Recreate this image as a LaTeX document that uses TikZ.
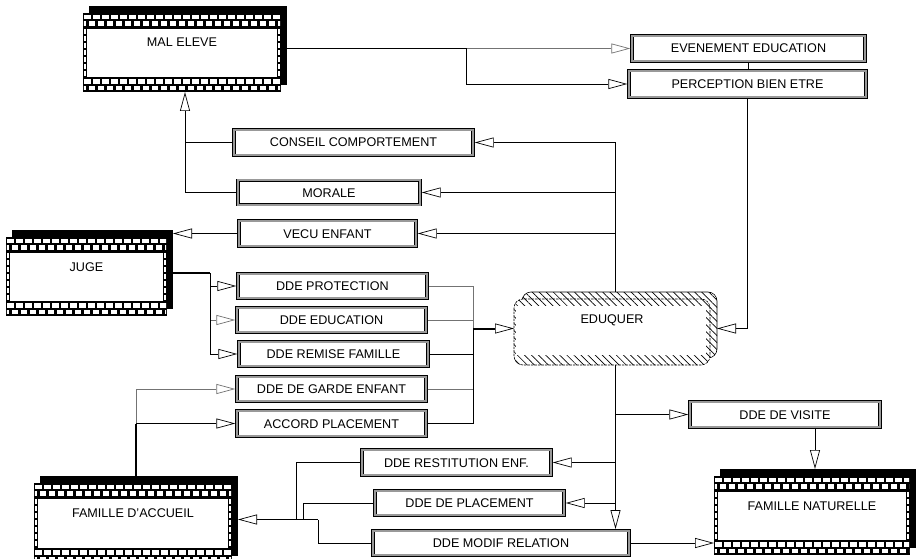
\documentclass[tikz,border=0pt]{standalone}
\usepackage{fontspec}
\setmainfont{Liberation Sans}
\usetikzlibrary{arrows.meta,patterns.meta,calc}
\tikzset{
  area/.style={rectangle,inner sep=0pt,outer sep=0pt,draw=none},
  txt/.style={font=\fontsize{12.6}{14}\selectfont,inner sep=0pt,text height=9pt,text depth=0pt},
  msg/.style={rectangle,draw=black,line width=0.6pt,double=black!40,double distance=2.2pt,
    fill=white,inner sep=0pt,outer sep=1.7pt,font=\fontsize{12.6}{14}\selectfont,
    text height=9pt,text depth=0pt},
  ln/.style={line width=0.8pt,draw=black},
  gry/.style={draw=black!55},
  arr/.style={-{Triangle[length=19pt,width=10pt,fill=white,line width=0.7pt]}},
  hatch/.style={pattern={Lines[angle=-45,distance=5pt,line width=0.7pt]}}
}
\newcommand\brickbox[6]{%
  \fill[black] ({#2+6},{#3-7}) rectangle ({#4+6},{#5-7});
  \fill[black] (#2,#3) rectangle (#4,#5);
  \begin{scope}
    \clip ({#2+0.8},#3) rectangle ({#4-0.8},#5);
    \foreach \k in {0,...,23}{
      \fill[white] ({#2+1.2+9*\k},{#3+1.6}) rectangle ++(6.6,4.4);
      \fill[white] ({#2-3.3+9*\k},{#3+8.4}) rectangle ++(6.6,4.4);
      \fill[white] ({#2+1.2+9*\k},{#5-12.8}) rectangle ++(6.6,4.4);
      \fill[white] ({#2-3.3+9*\k},{#5-6}) rectangle ++(6.6,4.4);
    }
  \end{scope}
  \foreach \k in {0,...,6}{
    \fill[white] ({#2+0.9},{#3+16+7*\k}) rectangle ++(1.7,4.8);
    \fill[white] ({#4-2.6},{#3+16+7*\k}) rectangle ++(1.7,4.8);
  }
  \filldraw[fill=white,draw=black,line width=0.5pt] ({#2+3.5},{#3+15}) rectangle ({#4-3.5},{#5-15});
  \node[area,minimum width={(#4+6-#2)*1pt},minimum height={(#5-#3+7)*1pt}] (#1) at ({(#2+#4+6)/2},{(#3-7+#5)/2}) {};
  \node[txt] (#1-t) at ({(#2+#4)/2},{#3+29.5}) {#6};
}
\begin{document}
\begin{tikzpicture}[x=1pt,y=-1pt]
\useasboundingbox (0,0) rectangle (916,559);
\clip (0,0) rectangle (916,559);
\fill[white] (0,0) rectangle (916,559);

% brick boxes (actors)
\brickbox{mal}{83}{13}{281}{92}{MAL ELEVE}
\brickbox{juge}{6}{237}{167}{316}{JUGE}
\brickbox{fa}{34}{483}{232}{563}{FAMILLE D'ACCUEIL}
\brickbox{fn}{714}{476}{910}{555}{FAMILLE NATURELLE}

% EDUQUER process shape
\filldraw[fill=white,draw=black,line width=0.6pt,rounded corners=9pt] (522,292) rectangle (717,358);
\fill[hatch,rounded corners=9pt] (522,292) rectangle (717,358);
\fill[white,rounded corners=9pt] (514,299) rectangle (710,365);
\fill[hatch,rounded corners=9pt] (514,299) rectangle (710,365);
\draw[black,line width=0.6pt,dash pattern=on 2.5pt off 1pt,rounded corners=9pt] (514,299) rectangle (710,365);
\fill[white] (515.5,306) rectangle (706,355);
\node[area,minimum width=203pt,minimum height=73pt] (eduq) at (615.5,328.5) {};
\node[txt] (eduqt) at (612,319) {EDUQUER};

% message boxes
\node[msg,minimum width=233pt,minimum height=25.5pt] (evt) at (748.5,48.5) {EVENEMENT EDUCATION};
\node[msg,minimum width=237pt,minimum height=26.5pt] (perc) at (747.5,84) {PERCEPTION BIEN ETRE};
\node[msg,minimum width=239pt,minimum height=25.5pt] (cons) at (353.5,142.5) {CONSEIL COMPORTEMENT};
\node[msg,minimum width=182pt,minimum height=24.5pt] (morale) at (329,192.5) {MORALE};
\node[msg,minimum width=177pt,minimum height=25.5pt] (vecu) at (327.5,233.5) {VECU ENFANT};
\node[msg,minimum width=189pt,minimum height=24.5pt] (prot) at (332.5,286) {DDE PROTECTION};
\node[msg,minimum width=189pt,minimum height=24.5pt] (educ) at (331.5,320) {DDE EDUCATION};
\node[msg,minimum width=189pt,minimum height=24.5pt] (remise) at (333.5,354) {DDE REMISE FAMILLE};
\node[msg,minimum width=189pt,minimum height=24.5pt] (garde) at (331.5,389) {DDE DE GARDE ENFANT};
\node[msg,minimum width=189pt,minimum height=25.5pt] (accord) at (331.5,423.5) {ACCORD PLACEMENT};
\node[msg,minimum width=190pt,minimum height=25.5pt] (visite) at (785,414.5) {DDE DE VISITE};
\node[msg,minimum width=189pt,minimum height=25.5pt] (restit) at (456.5,462.5) {DDE RESTITUTION ENF.};
\node[msg,minimum width=189pt,minimum height=24.5pt] (placem) at (469.5,503) {DDE DE PLACEMENT};
\node[msg,minimum width=256pt,minimum height=24.5pt] (modif) at (501,543) {DDE MODIF RELATION};

% MAL ELEVE -> EVENEMENT / PERCEPTION
\coordinate (jme) at (466,48.5);
\draw[ln] (mal.east |- evt.west) -- (jme);
\draw[ln,gry,arr] (jme) -- (evt.west);
\draw[ln,arr] (jme) |- (perc.west);
\draw[ln] (evt.south) -- (evt.south |- perc.north);
\draw[ln,arr] (perc.south) |- (eduq.east);

% EDUQUER top outputs
\draw[ln,arr] (eduq.north) |- (cons.east);
\draw[ln,arr] (eduq.north |- morale.east) -- (morale.east);
\draw[ln,arr] (eduq.north |- vecu.east) -- (vecu.east);
\draw[ln] (cons.west) -- (cons.west -| mal.south);
\draw[ln,arr] (morale.west) -| (mal.south);
\draw[ln,arr] (vecu.west) -- (vecu.west -| juge.east);

% JUGE requests
\coordinate (jj) at (210,273);
\draw[line width=1.4pt] (juge.east) -- (jj);
\draw[ln,arr] (jj) |- (prot.west);
\draw[ln,gry,arr] (jj) |- (educ.west);
\draw[ln,arr] (jj) |- (remise.west);

% merge into EDUQUER
\coordinate (jm) at (473,328.5);
\draw[ln,gry] (prot.east) -| (jm);
\draw[ln,gry] (educ.east) -| (jm);
\draw[ln] (remise.east) -| (jm);
\draw[ln,gry] (garde.east) -| (jm);
\draw[ln] (accord.east) -| (jm);
\draw[line width=2pt,arr] (jm) -- (eduq.west);

% FAMILLE D'ACCUEIL requests
\draw[ln,gry,arr] (fa.north) |- (garde.west);
\draw[ln,arr] (fa.north |- accord.west) -- (accord.west);
\draw[line width=1.4pt] (fa.north) -- (fa.north |- accord.west);

% EDUQUER bottom outputs
\draw[ln,arr] (eduq.south) -- (eduq.south |- modif.north);
\draw[ln,arr] (eduq.south |- visite.west) -- (visite.west);
\draw[ln,arr] (eduq.south |- restit.east) -- (restit.east);
\draw[ln,arr] (eduq.south |- placem.east) -- (placem.east);
\draw[ln,arr] (fn.north |- visite.south) -- (fn.north);
\draw[ln,arr] (modif.east) -- (modif.east -| fn.west);

% to FAMILLE D'ACCUEIL
\coordinate (ja) at (296,519.5);
\coordinate (jb) at (303,519.5);
\coordinate (jc) at (318,519.5);
\draw[ln] (restit.west) -| (ja);
\draw[ln] (placem.west) -| (jb);
\draw[ln] (modif.west) -| (jc);
\draw[ln,arr] (jc) -- (fa.east);
\end{tikzpicture}
\end{document}
